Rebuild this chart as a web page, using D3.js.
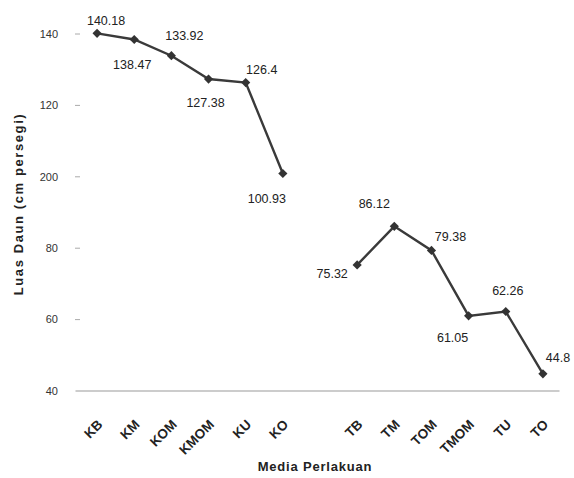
<!DOCTYPE html>
<html>
<head>
<meta charset="utf-8">
<script src="https://cdn.jsdelivr.net/npm/d3@7"></script>
<style>
  html, body { margin: 0; padding: 0; background: #fff; }
  svg { display: block; }
  text { font-family: "Liberation Sans", Arial, sans-serif; fill: #222; }
</style>
</head>
<body>
<svg id="chart" width="574" height="478"></svg>
<script>
// Leaf area per growing medium (two groups separated by an empty slot)
const categories = ["KB", "KM", "KOM", "KMOM", "KU", "KO", "", "TB", "TM", "TOM", "TMOM", "TU", "TO"];
const values = [140.18, 138.47, 133.92, 127.38, 126.4, 100.93, null, 75.32, 86.12, 79.38, 61.05, 62.26, 44.8];
const valueLabels = ["140.18", "138.47", "133.92", "127.38", "126.4", "100.93", "", "75.32", "86.12", "79.38", "61.05", "62.26", "44.8"];
// label placement relative to its point: [dx, dy]
const labelOffsets = [[9, -13], [-2, 25], [13, -20], [-3, 24], [16, -13], [-16, 25], [0, 0], [-25, 9], [-20, -23], [19, -14], [-16, 22], [2, -21], [15, -16]];
const yTicks = [40, 60, 80, 100, 120, 140];
const yTickLabels = ["40", "60", "80", "200", "120", "140"];

const svg = d3.select("#chart");

const x = d3.scaleBand().domain(categories).range([78.5, 561.5]);
const y = d3.scaleLinear().domain([40, 140]).range([391, 34]);
const cx = c => x(c) + x.bandwidth() / 2;

// Y tick labels and short tick marks
const yAxis = svg.append("g");
yTicks.forEach((t, i) => {
  yAxis.append("text")
    .attr("x", 58).attr("y", y(t))
    .attr("dy", "0.35em")
    .attr("text-anchor", "end")
    .style("font-size", "11px")
    .style("fill", "#333")
    .text(yTickLabels[i]);
  if (t !== 40) {
    yAxis.append("line")
      .attr("x1", 75).attr("x2", 80)
      .attr("y1", y(t)).attr("y2", y(t))
      .attr("stroke", "#aaa").attr("stroke-width", 1);
  }
});

// Baseline
svg.append("line")
  .attr("x1", x.range()[0] - 3).attr("x2", x.range()[1] - 2)
  .attr("y1", y(40)).attr("y2", y(40))
  .attr("stroke", "#999").attr("stroke-width", 1.2);

// Category labels, rotated
svg.append("g").selectAll("text")
  .data(categories.filter(c => c !== ""))
  .join("text")
  .attr("transform", c => `translate(${cx(c) + 3},${y(40) + 31}) rotate(-45)`)
  .attr("text-anchor", "end")
  .attr("dy", "0.35em")
  .style("font-size", "13.5px")
  .style("font-weight", "bold")
  .text(c => c);

// Line with a break at the empty slot
const pts = categories.map((c, i) => ({ c, v: values[i], label: valueLabels[i], off: labelOffsets[i] }));
const line = d3.line()
  .defined(d => d.v !== null)
  .x(d => cx(d.c))
  .y(d => y(d.v));

svg.append("path")
  .datum(pts)
  .attr("d", line)
  .attr("fill", "none")
  .attr("stroke", "#3a3a3a")
  .attr("stroke-width", 2.4);

const shown = pts.filter(d => d.v !== null);

// Diamond markers (square turned 45 degrees)
svg.append("g").selectAll("path")
  .data(shown)
  .join("path")
  .attr("transform", d => `translate(${cx(d.c)},${y(d.v)}) rotate(45)`)
  .attr("d", d3.symbol(d3.symbolSquare, 42)())
  .attr("fill", "#333");

// Value labels
svg.append("g").selectAll("text")
  .data(shown)
  .join("text")
  .attr("x", d => cx(d.c) + d.off[0])
  .attr("y", d => y(d.v) + d.off[1])
  .attr("dy", "0.35em")
  .attr("text-anchor", "middle")
  .style("font-size", "12.5px")
  .text(d => d.label);

// Axis titles
svg.append("text")
  .attr("x", 315).attr("y", 466)
  .attr("dy", "0.35em")
  .attr("text-anchor", "middle")
  .style("font-size", "13px")
  .style("font-weight", "bold")
  .style("letter-spacing", "0.8px")
  .text("Media Perlakuan");

svg.append("text")
  .attr("transform", "translate(18,204) rotate(-90)")
  .attr("dy", "0.35em")
  .attr("text-anchor", "middle")
  .style("font-size", "13px")
  .style("font-weight", "bold")
  .style("letter-spacing", "1.6px")
  .text("Luas Daun (cm persegi)");
</script>
</body>
</html>
